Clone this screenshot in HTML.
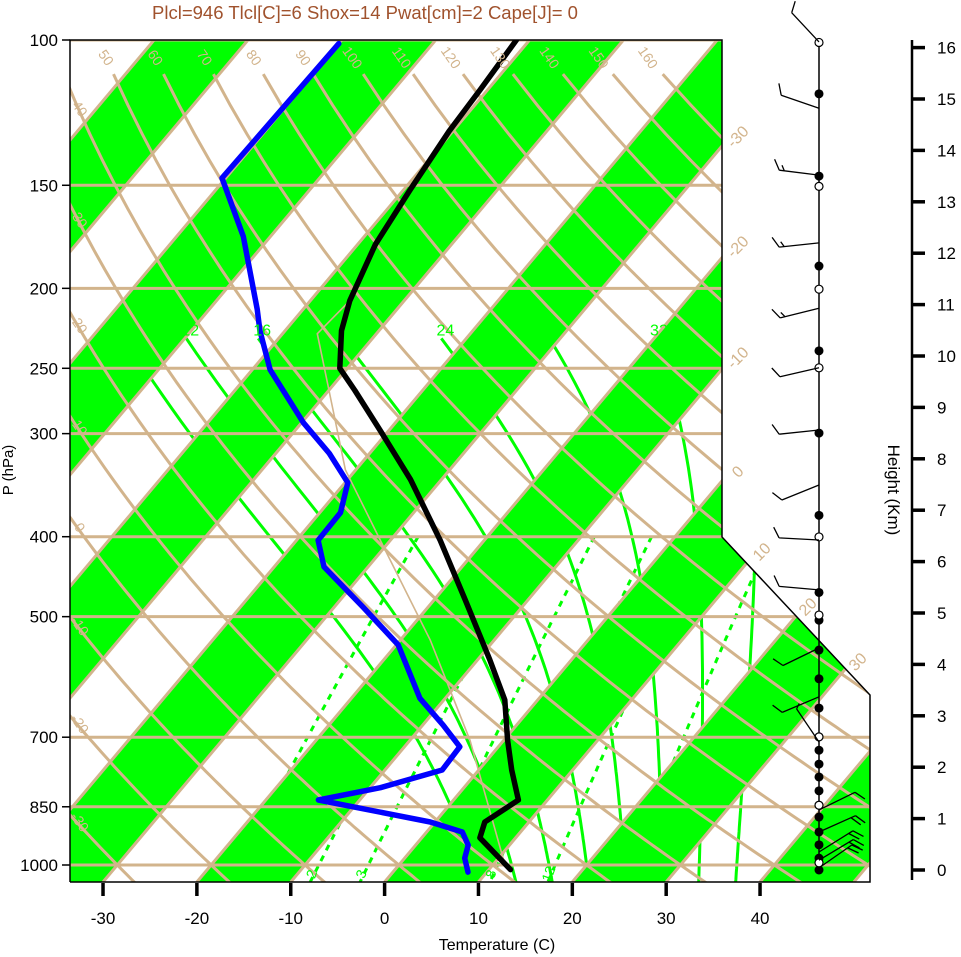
<!DOCTYPE html>
<html><head><meta charset="utf-8"><title>Skew-T</title>
<style>
html,body{margin:0;padding:0;background:#fff;}
svg{display:block;font-family:"Liberation Sans",Arial,sans-serif;}
</style></head>
<body>
<svg id="chart" xmlns="http://www.w3.org/2000/svg" width="961" height="957" viewBox="0 0 961 957">
<defs>
<clipPath id="plotclip"><polygon points="70,40 722,40 722,537 870,695 870,882 70,882"/></clipPath>
</defs>
<text x="365" y="19" text-anchor="middle" font-size="18.5" fill="#a0522d">Plcl=946 Tlcl[C]=6 Shox=14 Pwat[cm]=2 Cape[J]= 0</text>
<g id="plot" clip-path="url(#plotclip)"></g>
<g id="over"></g>
</svg>
<script>
// ---- data ----
const pLevels=[100,150,200,250,300,400,500,700,850,1000];
const tTicks=[-30,-20,-10,0,10,20,30,40];
const hTicks=[0,1,2,3,4,5,6,7,8,9,10,11,12,13,14,15,16];
const tempP=[1013,927,887,834,767,706,631,564,477,404,341,297,266,250,225,207,177,152,129,115,100];
const tempT=[12.3,6.2,5.3,6.9,3.5,0.4,-3.5,-8.7,-16.7,-24.7,-33.3,-41.0,-47.2,-50.8,-54.0,-55.8,-58.1,-59.3,-60.4,-60.8,-61.4];
const dewP=[1020,981,946,912,887,834,806,767,719,677,628,541,487,435,404,374,344,317,291,251,225,212,173,147,101];
const dewT=[8.0,6.4,5.6,3.8,-0.5,-14.4,-8.9,-3.9,-4.1,-7.8,-12.7,-19.8,-26.9,-34.7,-37.7,-37.8,-39.7,-44.3,-49.8,-58.1,-62.7,-64.9,-72.9,-80.4,-80.0];
const parcelP=[207,227,332,415,534,706,1000];
const parcelT=[-55.8,-56.3,-41.1,-29.7,-16.8,-3.6,11.3];
const windH=[16.11,14.82,13.52,12.2,10.93,9.77,8.56,7.49,6.42,5.45,4.32,3.37,2.49,1.17,0.74,0.35,0.19,0.04];
const windDir=[317,289,277,264,256,257,264,248,273,275,244,247,326,64,66,58,59,55];
const windSpd=[10,10,15,15,15,10,10,10,10,10,10,10,5,10,20,20,20,20];
const dotFilledH=[15.1,13.5,11.75,10.1,8.5,6.9,5.4,4.86,4.28,3.72,3.15,2.59,2.33,2.06,1.81,1.54,1.26,1.03,0.74,0.49,0.23,0];
const dotOpenH=[16.1,13.3,11.3,9.77,6.48,4.96,2.59,1.26,0.14];
const thetaVals=[-30,-20,-10,0,10,20,30,40,50,60,70,80,90,100,110,120,130,140,150,160];
const thetaTopLabels=[50,60,70,80,90,100,110,120,130,140,150,160];
const thetaLeftLabels=[40,30,20,10,0,-10,-20,-30];
const thetaW=[8,12,16,20,24,28,32,36];
const thetaWTop=[250,230,230,230,230,230,230,290];
const thetaWLabels=[12,16,24,32];
const mixW=[1,2,3,5,8,12,20];
const mixLabels=[2,3,8,12];

// ---- scales ----
const NS="http://www.w3.org/2000/svg";
function yP(p){return 40+825*Math.log10(p/100);}
function xPT(p,T){return 384.6+9.386*T+0.841*(882-yP(p));}
function yH(h){return 870-51.4*h;}
function es(TK){return 6.1078*Math.exp(17.2693882*(TK-273.16)/(TK-35.86));}
function wsat(TK,p){const e=es(TK);return 622*e/(p-e);}
function osat(TK,p){return TK*Math.pow(1000/p,0.286)*Math.exp(2.6518986*wsat(TK,p)/TK);}
function tsa(os,p){let lo=150,hi=340;for(let i=0;i<50;i++){const m=(lo+hi)/2;if(osat(m,p)>os)hi=m;else lo=m;}return (lo+hi)/2-273.15;}
function tmr(w,p){const e=w*p/(622+w);const a=Math.log(e/6.1078);return (35.86*a-17.2693882*273.16)/(a-17.2693882)-273.15;}
function mk(tag,attrs,parent){const el=document.createElementNS(NS,tag);for(const k in attrs)el.setAttribute(k,attrs[k]);parent.appendChild(el);return el;}
function pts(arr){return arr.map(a=>a[0].toFixed(1)+","+a[1].toFixed(1)).join(" ");}
const plot=document.getElementById('plot');
const over=document.getElementById('over');
const TAN="#d2b48c", GRN="#00ff00";

// green bands
for(let T0=-140;T0<=60;T0+=20){
  const b0=384.6+9.386*T0,b1=384.6+9.386*(T0+10),s=0.841*842;
  const el=mk('polygon',{points:pts([[b0,882],[b1,882],[b1+s,40],[b0+s,40]]),fill:GRN},plot);
  
  
}
// moist adiabats
thetaW.forEach((tw,i)=>{
  const T0=tw+273.15;const os=T0*Math.exp(2.6518986*wsat(T0,1000)/T0);
  const a=[];for(let p=thetaWTop[i];p<=1060;p+=10){a.push([xPT(p,tsa(os,p)),yP(p)]);}
  const el=mk('polyline',{points:pts(a),fill:'none',stroke:GRN,'stroke-width':3},plot);
  
  
});
// mixing ratio
mixW.forEach(w=>{
  const a=[];for(let p=400;p<=1060;p+=10){a.push([xPT(p,tmr(w,p)),yP(p)]);}
  const el=mk('polyline',{points:pts(a),fill:'none',stroke:GRN,'stroke-width':3,'stroke-dasharray':'6,6'},plot);
  
  
});
// isotherms
for(let T=-140;T<=60;T+=10){
  const b=384.6+9.386*T;
  const el=mk('line',{x1:b,y1:882,x2:b+0.841*842,y2:40,stroke:TAN,'stroke-width':3},plot);
  
  
}
// dry adiabats
thetaVals.forEach(th=>{
  const a=[];for(let p=110;p<=1060;p+=10){const T=(th+273.15)*Math.pow(p/1000,0.286)-273.15;a.push([xPT(p,T),yP(p)]);}
  const el=mk('polyline',{points:pts(a),fill:'none',stroke:TAN,'stroke-width':3},plot);
  
  
});
// isobars
pLevels.forEach(p=>{
  const el=mk('line',{x1:70,x2:880,y1:yP(p),y2:yP(p),stroke:TAN,'stroke-width':3},plot);
  
  
});
// parcel
{
  const el=mk('polyline',{points:pts(parcelP.map((p,i)=>[xPT(p,parcelT[i]),yP(p)])),fill:'none',stroke:TAN,'stroke-width':1.6},plot);
  
  
}
// temperature
{
  const el=mk('polyline',{points:pts(tempP.map((p,i)=>[xPT(p,tempT[i]),yP(p)])),fill:'none',stroke:'#000','stroke-width':5.5,'stroke-linejoin':'round','stroke-linecap':'round'},plot);
  
  
}
// dewpoint
{
  const el=mk('polyline',{points:pts(dewP.map((p,i)=>[xPT(p,dewT[i]),yP(p)])),fill:'none',stroke:'#0000ff','stroke-width':5.5,'stroke-linejoin':'round','stroke-linecap':'round'},plot);
  
  
}
// labels
thetaTopLabels.forEach(th=>{
  const p=105;const T=(th+273.15)*Math.pow(p/1000,0.286)-273.15;
  const x=xPT(p,T),y=yP(p);
  const el=mk('text',{x:x,y:y+5,'text-anchor':'middle','font-size':14,fill:TAN,transform:`rotate(55 ${x} ${y})`},over);
  el.textContent=th;
  
  
});
thetaLeftLabels.forEach(th=>{
  let lo=100,hi=1050;
  for(let i=0;i<40;i++){const m=Math.sqrt(lo*hi);const T=(th+273.15)*Math.pow(m/1000,0.286)-273.15;if(xPT(m,T)>80)hi=m;else lo=m;}
  const y=yP(lo)-4;
  if(y<872&&y>60){
    const el=mk('text',{x:80,y:y+5,'text-anchor':'middle','font-size':14,fill:TAN,transform:`rotate(55 80 ${y})`},over);
    el.textContent=th;
    
    
  }
});
thetaWLabels.forEach(tw=>{
  const T0=tw+273.15;const os=T0*Math.exp(2.6518986*wsat(T0,1000)/T0);
  const p=230;const x=xPT(p,tsa(os,p));
  const el=mk('text',{x:x+4,y:yP(p)-3,'text-anchor':'middle','font-size':16,fill:GRN},over);
  el.textContent=tw;
  
  
});
mixLabels.forEach(w=>{
  const p=1025;const x=xPT(p,tmr(w,p)),y=yP(p);
  const el=mk('text',{x:x-3,y:y+5,'text-anchor':'middle','font-size':14,fill:GRN,transform:`rotate(-70 ${x-3} ${y})`},over);
  el.textContent=w;
  
  
});
[["-30",738,137],["-20",738,247],["-10",738,358],["0",738,472],["10",762,552],["20",808,607],["30",858,662]].forEach(d=>{
  const el=mk('text',{x:d[1],y:d[2]+5,'text-anchor':'middle','font-size':16,fill:TAN,transform:`rotate(-45 ${d[1]} ${d[2]})`},over);
  el.textContent=d[0];
  
  
});
// frame
{
  const el=mk('polyline',{points:"70,882 70,40 722,40 722,537 870,695 870,882 70,882",fill:'none',stroke:'#000','stroke-width':1.5},over);
  
  
}
// left axis
pLevels.forEach(p=>{
  const y=yP(p);
  const t=mk('line',{x1:62,x2:70,y1:y,y2:y,stroke:'#000','stroke-width':1.5},over);
  
  
  const el=mk('text',{x:58,y:y+6,'text-anchor':'end','font-size':17,fill:'#000'},over);
  el.textContent=p;
  
  
});
{
  const el=mk('text',{x:13,y:470,'text-anchor':'middle','font-size':15,fill:'#000',transform:'rotate(-90 13 470)'},over);
  el.textContent='P (hPa)';
  
  
}
// bottom axis
tTicks.forEach(T=>{
  const x=384.6+9.386*T;
  const t=mk('line',{x1:x,x2:x,y1:883,y2:896,stroke:'#000','stroke-width':3.5},over);
  
  
  const el=mk('text',{x:x,y:924,'text-anchor':'middle','font-size':17,fill:'#000'},over);
  el.textContent=T;
  
  
});
{
  const el=mk('text',{x:497,y:950,'text-anchor':'middle','font-size':16,fill:'#000'},over);
  el.textContent='Temperature (C)';
  
  
}
// right height axis
{
  const el=mk('line',{x1:912,x2:912,y1:40,y2:880,stroke:'#000','stroke-width':2.5},over);
  
  
}
hTicks.forEach(h=>{
  const y=yH(h);
  const t=mk('line',{x1:912,x2:925,y1:y,y2:y,stroke:'#000','stroke-width':3.5},over);
  
  
  const el=mk('text',{x:937,y:y+6,'font-size':17,fill:'#000'},over);
  el.textContent=h;
  
  
});
{
  const el=mk('text',{x:888,y:490,'text-anchor':'middle','font-size':17,fill:'#000',transform:'rotate(90 888 490)'},over);
  el.textContent='Height (Km)';
  
  
}
// wind staff
{
  const el=mk('line',{x1:819,x2:819,y1:40,y2:870,stroke:'#000','stroke-width':1.5},over);
  
  
}
dotFilledH.forEach(h=>{
  const el=mk('circle',{cx:819,cy:yH(h),r:4.5,fill:'#000'},over);
  
  
});
dotOpenH.forEach(h=>{
  const el=mk('circle',{cx:819,cy:yH(h),r:4,fill:'#fff',stroke:'#000','stroke-width':1.2},over);
  
  
});
windH.forEach((h,i)=>{
  const ax=819,ay=yH(h),d=windDir[i]*Math.PI/180;
  const ux=Math.sin(d),uy=-Math.cos(d),L=40;
  const ex=ax+ux*L,ey=ay+uy*L;
  let s="M"+ax+","+ay.toFixed(1)+" L"+ex.toFixed(1)+","+ey.toFixed(1);
  const a=60*Math.PI/180,fx=ux*Math.cos(a)-uy*Math.sin(a),fy=ux*Math.sin(a)+uy*Math.cos(a);
  let full=Math.floor(windSpd[i]/10),half=(windSpd[i]%10)>=5?1:0,k=0;
  for(let j=0;j<full;j++,k++){const px=ex-ux*k*5,py=ey-uy*k*5;s+=` M${px.toFixed(1)},${py.toFixed(1)} l${(fx*12).toFixed(1)},${(fy*12).toFixed(1)}`;}
  if(half){const px=ex-ux*k*5,py=ey-uy*k*5;s+=` M${px.toFixed(1)},${py.toFixed(1)} l${(fx*6).toFixed(1)},${(fy*6).toFixed(1)}`;}
  const el=mk('path',{d:s,fill:'none',stroke:'#000','stroke-width':1.3},over);
  
  
});
</script>
</body></html>
